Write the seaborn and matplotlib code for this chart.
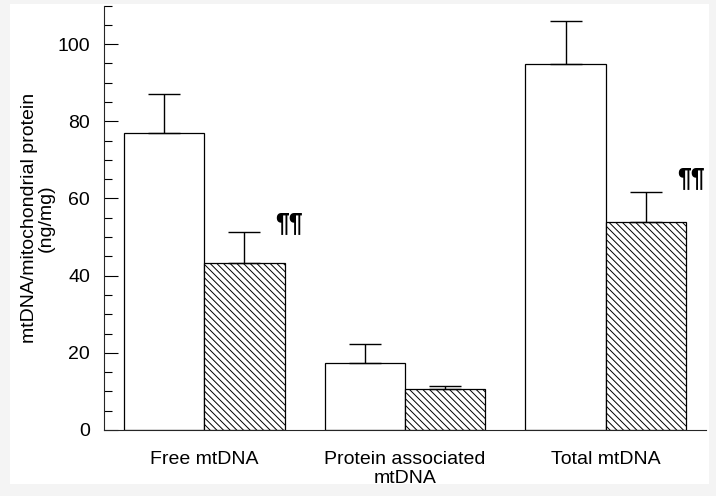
import numpy as np
import pandas as pd
import matplotlib
matplotlib.use("Agg")
import matplotlib.pyplot as plt
from matplotlib.patches import Rectangle
from matplotlib.ticker import MultipleLocator
import seaborn as sns

## data
categories = ["Free mtDNA", "Protein associated\nmtDNA", "Total mtDNA"]
groups = ["Control", "Treated"]
control_means = [77, 17.3, 94.8]
control_err = [10, 5, 11.2]
treated_means = [43.3, 10.6, 54]
treated_err = [8, 0.8, 7.7]
# significance marks next to the treated bars
marks = ["\u00b6\u00b6", "", "\u00b6\u00b6"]
mark_y = [53.6, 0, 65.3]

sns.set_style("ticks")
plt.rcParams['font.family'] = ['Liberation Sans', 'DejaVu Sans']
plt.rcParams['hatch.linewidth'] = 0.7
plt.rcParams['text.color'] = 'black'
plt.rcParams['axes.labelcolor'] = 'black'
plt.rcParams['xtick.color'] = 'black'
plt.rcParams['ytick.color'] = 'black'

df = pd.DataFrame({
    "category": categories * 2,
    "group": [groups[0]] * 3 + [groups[1]] * 3,
    "value": control_means + treated_means,
})

fig = plt.figure(figsize=(7.16, 4.96), dpi=100, facecolor="#f4f4f4")
# white sheet behind the plot
fig.patches.append(Rectangle((10 / 716, 12 / 496), 699 / 716, 480 / 496,
                             transform=fig.transFigure, facecolor="white",
                             edgecolor="none", zorder=-10))
ax = fig.add_axes([104 / 716, 66 / 496, 602 / 716, 424.5 / 496])
ax.set_facecolor("none")
ax.set_zorder(5)

sns.barplot(data=df, x="category", y="value", hue="group", hue_order=groups,
            palette=["white", "white"], edgecolor="black", linewidth=0.9,
            width=0.8, errorbar=None, legend=False, ax=ax)

# hatch the treated bars and add one-sided error bars
n = len(categories)
bars = ax.patches[:2 * n]
for i, b in enumerate(bars):
    grp = i // n
    k = i % n
    if grp == 1:
        b.set_hatch("\\" * 5)
    xc = b.get_x() + b.get_width() / 2
    m = control_means[k] if grp == 0 else treated_means[k]
    e = control_err[k] if grp == 0 else treated_err[k]
    ax.errorbar(xc, m, yerr=[[0], [e]], color="black", lw=1.0,
                capsize=11.5, capthick=1.0, fmt="none")
    if grp == 1 and marks[k]:
        ax.text(b.get_x() + b.get_width() - 0.045, mark_y[k], marks[k],
                fontsize=18, fontweight="bold", ha="left", va="center")

ax.set_xlim(-0.5, 2.5)
ax.set_ylim(0, 110)
ax.yaxis.set_major_locator(MultipleLocator(20))
ax.yaxis.set_minor_locator(MultipleLocator(5))
ax.tick_params(axis="y", which="major", direction="in", length=10, width=0.8,
               labelsize=14, pad=10)
ax.tick_params(axis="y", which="minor", direction="in", length=6, width=0.8)
ax.tick_params(axis="x", length=0, labelsize=14, pad=15)
ax.set_xlabel("")
ax.set_ylabel("mtDNA/mitochondrial protein\n(ng/mg)", fontsize=14,
              linespacing=1.0, labelpad=2)
sns.despine(ax=ax)
for s in ["left", "bottom"]:
    ax.spines[s].set_linewidth(0.8)

fig.savefig("out.png", dpi=100, facecolor=fig.get_facecolor())
